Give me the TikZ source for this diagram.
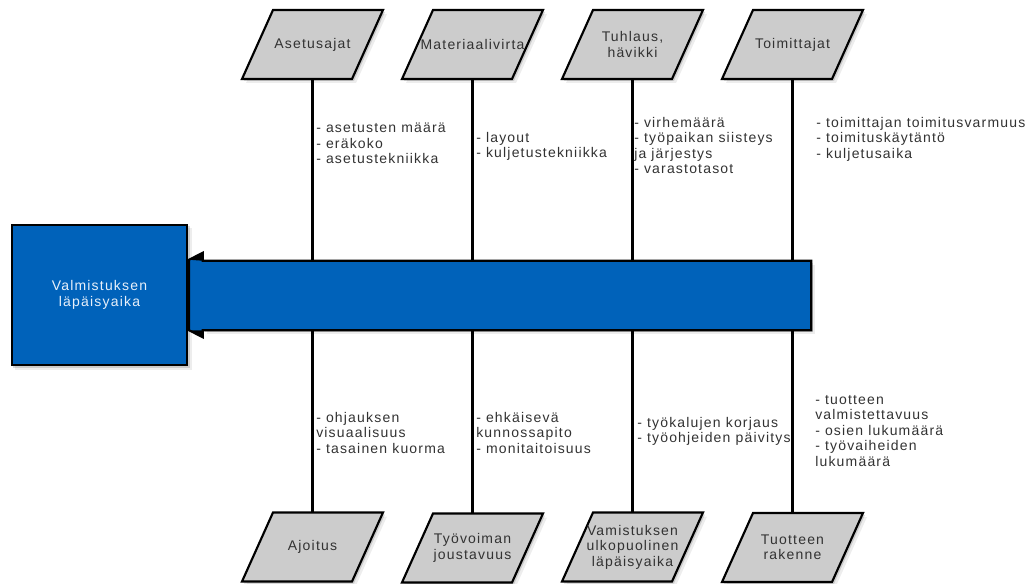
\documentclass[tikz,border=0pt]{standalone}
\usepackage{fontspec}
\setmainfont{Liberation Sans}[LetterSpace=8.5]
\usetikzlibrary{calc,backgrounds}

\definecolor{mainblue}{RGB}{0,98,186}
\definecolor{catgray}{RGB}{204,204,204}
\definecolor{inkgray}{RGB}{50,50,50}
\definecolor{paleblue}{RGB}{232,240,250}

% parallelogram drawn round a category node, with a soft shadow
\newcommand\catbox[1]{%
  \fill[black, opacity=.07] ($(#1)+(-66.5,38.5)$) -- ($(#1)+(43.5,38.5)$) -- ($(#1)+(74.5,-30.5)$) -- ($(#1)+(-35.5,-30.5)$) -- cycle;
  \fill[black, opacity=.14] ($(#1)+(-68.5,36.5)$) -- ($(#1)+(41.5,36.5)$) -- ($(#1)+(72.5,-32.5)$) -- ($(#1)+(-37.5,-32.5)$) -- cycle;
  \draw[outline, fill=catgray] ($(#1)+(-70.5,34.5)$) -- ($(#1)+(39.5,34.5)$) -- ($(#1)+(70.5,-34.5)$) -- ($(#1)+(-39.5,-34.5)$) -- cycle;
}

\begin{document}
\begin{tikzpicture}[x=0.75pt, y=-0.75pt,
  every node/.style={font=\fontsize{10.5}{11.6}\selectfont, text=inkgray, inner sep=0pt},
  outline/.style={draw=black, line width=1.6pt, line join=miter},
  catlabel/.style={align=center},
  itemlist/.style={align=left, anchor=north west},
  bone/.style={draw=black, line width=1.6pt},
]
\useasboundingbox (0,0) rectangle (1035,584);

% effect box
\node[outline, fill=mainblue, text=paleblue, align=center,
      minimum width=131.25pt, minimum height=105pt] (result) at (99.5,295)
      {Valmistuksen\\läpäisyaika};

% spine (outlined together with its arrow head below)
\node[fill=mainblue, minimum width=456pt, minimum height=51.75pt] (spine) at (507,295.5) {};

% categories, upper row
\node[catlabel] (c1) at (312.5,44.5) {Asetusajat};
\node[catlabel] (c2) at (472.5,44.5) {Materiaalivirta};
\node[catlabel] (c3) at (632.5,44.5) {Tuhlaus,\\hävikki};
\node[catlabel] (c4) at (792.5,44.5) {Toimittajat};
% categories, lower row
\node[catlabel] (c5) at (312.5,547) {Ajoitus};
\node[catlabel] (c6) at (472.5,548) {Työvoiman\\joustavuus};
\node[catlabel] (c7) at (632.5,547) {Vamistuksen\\ulkopuolinen\\läpäisyaika};
\node[catlabel] (c8) at (792.5,547.5) {Tuotteen\\rakenne};

\begin{scope}[on background layer]
  % shadows of the effect box and spine
  \fill[black, opacity=.07] ($(result.south west)+(4,4)$) rectangle ($(result.north east)+(4,4)$);
  \fill[black, opacity=.14] ($(result.south west)+(2,2)$) rectangle ($(result.north east)+(2,2)$);
  \fill[black, opacity=.07] ($(spine.south west)+(4,4)$) rectangle ($(spine.north east)+(4,4)$);
  \fill[black, opacity=.14] ($(spine.south west)+(2,2)$) rectangle ($(spine.north east)+(2,2)$);
  \catbox{c1}\catbox{c2}\catbox{c3}\catbox{c4}
  \catbox{c5}\catbox{c6}\catbox{c7}\catbox{c8}
\end{scope}

% spine with its arrow head, pointing at the effect
\draw[outline, fill=mainblue]
  (spine.north east) -- (spine.north west)
  -- ($(spine.north west)+(0,-8)$) -- ($(result.east |- spine.north)+(1,-1)$)
  -- ($(result.east |- spine.south)+(1,0)$) -- ($(spine.south west)+(0,7)$)
  -- (spine.south west) -- (spine.south east) -- cycle;
\fill[black] ($(spine.north west)+(0,-8)$) -- ($(result.east |- spine.north)+(1,-1)$) -- (spine.north west) -- cycle;
\fill[black] ($(spine.south west)+(0,7)$) -- ($(result.east |- spine.south)+(1,0)$) -- (spine.south west) -- cycle;

% bones
\draw[bone] ($(c1)+(0,34.5)$) -- (c1 |- spine.north);
\draw[bone] ($(c2)+(0,34.5)$) -- (c2 |- spine.north);
\draw[bone] ($(c3)+(0,34.5)$) -- (c3 |- spine.north);
\draw[bone] ($(c4)+(0,34.5)$) -- (c4 |- spine.north);
\draw[bone] ($(c5)+(0,-34.5)$) -- (c5 |- spine.south);
\draw[bone] ($(c6)+(0,-34.5)$) -- (c6 |- spine.south);
\draw[bone] ($(c7)+(0,-34.5)$) -- (c7 |- spine.south);
\draw[bone] ($(c8)+(0,-34.5)$) -- (c8 |- spine.south);

% causes
\node[itemlist] (i1) at (316,123) {- asetusten määrä\\- eräkoko\\- asetustekniikka};
\node[itemlist] (i2) at (476,132) {- layout\\- kuljetustekniikka};
\node[itemlist] (i3) at (634,117) {- virhemäärä\\- työpaikan siisteys\\ja järjestys\\- varastotasot};
\node[itemlist] (i4) at (816,117) {- toimittajan toimitusvarmuus\\- toimituskäytäntö\\- kuljetusaika};
\node[itemlist] (i5) at (316,412) {- ohjauksen\\visuaalisuus\\- tasainen kuorma};
\node[itemlist] (i6) at (476,412) {- ehkäisevä\\kunnossapito\\- monitaitoisuus};
\node[itemlist] (i7) at (637,417) {- työkalujen korjaus\\- työohjeiden päivitys};
\node[itemlist] (i8) at (815,395) {- tuotteen\\valmistettavuus\\- osien lukumäärä\\- työvaiheiden\\lukumäärä};
\end{tikzpicture}
\end{document}
